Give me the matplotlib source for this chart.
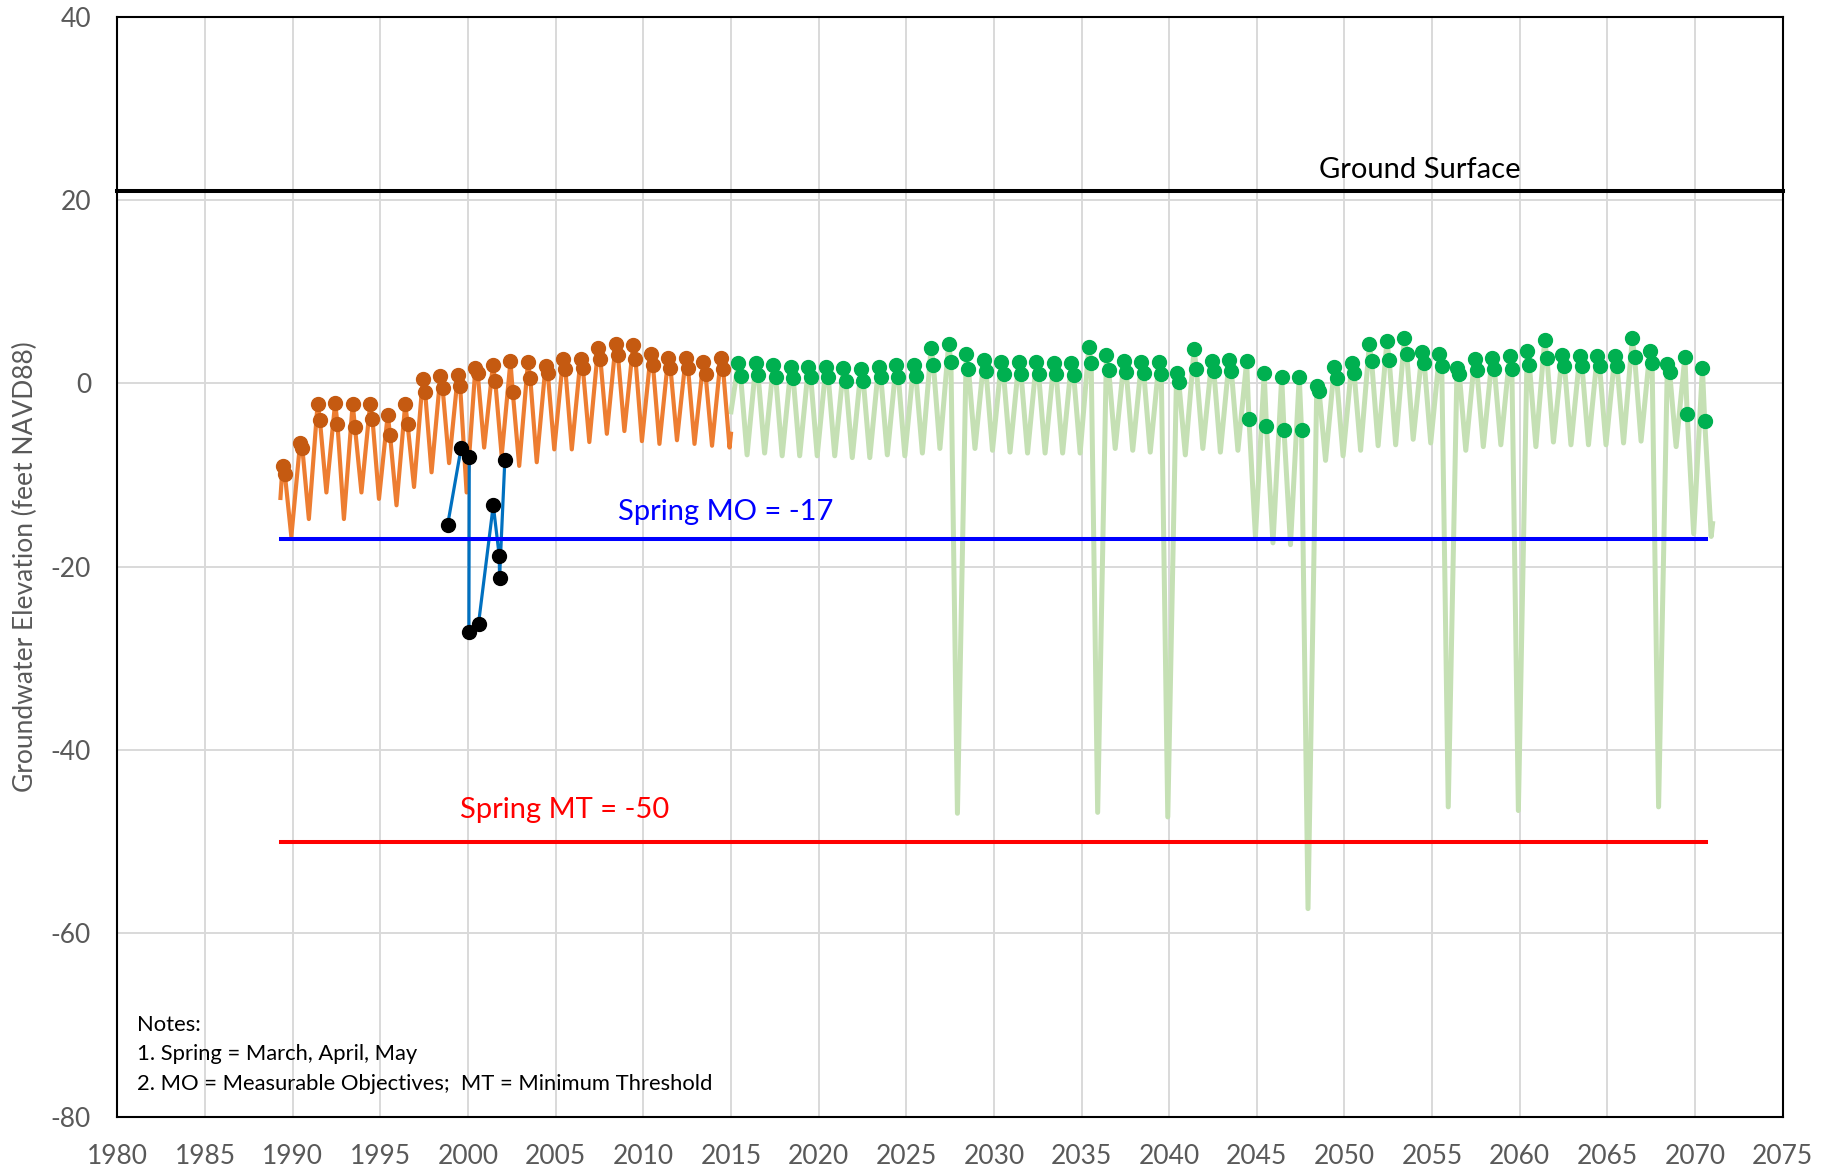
import matplotlib
matplotlib.use("Agg")
import matplotlib.pyplot as plt

plt.rcParams['font.family'] = ['Lato', 'DejaVu Sans']
plt.rcParams['axes.unicode_minus'] = False

# historical simulated (orange), one entry per year 1989..2014
hist_years = list(range(1989, 2015))
hist_spring_a = [-9.0, -6.5, -2.2, -2.1, -2.2, -2.2, -3.4, -2.2, 0.5, 0.8, 0.9, 1.7, 2.0,
                 2.4, 2.3, 1.9, 2.7, 2.7, 3.9, 4.3, 4.2, 3.2, 2.8, 2.8, 2.3, 2.8]
hist_spring_b = [-9.9, -7.1, -4.0, -4.4, -4.8, -3.9, -5.6, -4.4, -0.9, -0.5, -0.3, 1.1, 0.3,
                 -0.9, 0.6, 1.1, 1.6, 1.7, 2.7, 3.1, 2.7, 2.0, 1.7, 1.7, 1.0, 1.6]
hist_fall = [-16.7, -14.8, -11.9, -14.8, -11.9, -12.6, -13.3, -11.3, -9.7, -8.7, -11.9, -7.0, -7.9,
             -9.0, -8.6, -7.2, -7.2, -6.4, -5.5, -5.2, -6.3, -6.6, -6.2, -6.6, -6.8, -7.0]
hist_start = (1989.3, -12.5)
hist_end = (2015.0, -5.5)

# projected simulated (green), one entry per year 2015..2070
proj_years = list(range(2015, 2071))
proj_spring_a = [2.2, 2.2, 2.0, 1.8, 1.8, 1.8, 1.7, 1.6, 1.8, 2.0, 2.0, 3.9, 4.3, 3.2, 2.5, 2.3,
                 2.3, 2.3, 2.2, 2.2, 4.0, 3.1, 2.4, 2.3, 2.3, 1.1, 3.7, 2.4, 2.5, 2.4, 1.1, 0.7,
                 0.7, -0.3, 1.8, 2.2, 4.3, 4.6, 4.9, 3.4, 3.2, 1.7, 2.7, 2.8, 3.0, 3.5, 4.7, 3.1,
                 3.0, 3.0, 3.0, 4.9, 3.5, 2.1, 2.9, 1.7]
proj_spring_b = [0.8, 0.9, 0.7, 0.6, 0.7, 0.7, 0.3, 0.3, 0.7, 0.7, 0.8, 2.0, 2.3, 1.6, 1.3, 1.0,
                 1.0, 1.0, 1.0, 0.9, 2.2, 1.5, 1.2, 1.1, 1.0, 0.1, 1.6, 1.3, 1.3, -3.9, -4.7, -5.1,
                 -5.1, -0.8, 0.6, 1.1, 2.4, 2.6, 3.2, 2.2, 1.9, 1.0, 1.5, 1.6, 1.6, 2.0, 2.8, 1.9,
                 1.9, 1.9, 1.9, 2.9, 2.2, 1.2, -3.3, -4.1]
proj_fall = [-7.8, -7.6, -7.9, -7.9, -7.9, -7.9, -8.1, -8.1, -7.8, -7.9, -7.6, -7.1, -46.9, -7.1,
             -7.3, -7.5, -7.6, -7.6, -7.6, -7.6, -46.8, -7.1, -7.3, -7.5, -47.3, -7.8, -7.1, -7.5,
             -7.3, -16.7, -17.4, -17.6, -57.3, -8.4, -7.9, -7.3, -6.8, -6.7, -6.1, -6.5, -46.2,
             -7.3, -6.9, -6.7, -46.6, -6.9, -6.4, -6.7, -6.7, -6.7, -6.5, -6.3, -46.2, -6.9,
             -16.4, -16.7]
proj_start = (2015.0, -3.1)
proj_end = (2071.0, -15.3)

# observed well measurements
obs_dates = [1998.84, 1999.6, 2000.07, 2000.05, 2000.6, 2001.44, 2001.78, 2001.8, 2002.1]
obs_values = [-15.4, -7.1, -8.0, -27.1, -26.2, -13.3, -18.8, -21.2, -8.4]

ground_surface = 21.0
spring_mo = -17
spring_mt = -50
threshold_span = (1989.35, 2070.6)

notes = ["Notes:", "1. Spring = March, April, May",
         "2. MO = Measurable Objectives;  MT = Minimum Threshold"]

# timing within a year
SPRING_A = 0.42
SPRING_B = 0.55
FALL = 0.92


def seasonal(years, sa, sb, fall, start, end):
    t = [start[0]]
    v = [start[1]]
    for y, a, b, f in zip(years, sa, sb, fall):
        t += [y + SPRING_A, y + SPRING_B, y + FALL]
        v += [a, b, f]
    t.append(end[0])
    v.append(end[1])
    return t, v


fig = plt.figure(figsize=(18.35, 11.71), dpi=100)
ax = fig.add_axes([0.064, 0.0464, 0.9075, 0.9393])

gt, gv = seasonal(proj_years, proj_spring_a, proj_spring_b, proj_fall, proj_start, proj_end)
ax.plot(gt, gv, color='#C5E0B4', lw=3.6, zorder=3, solid_joinstyle='round')
ot, ov = seasonal(hist_years, hist_spring_a, hist_spring_b, hist_fall, hist_start, hist_end)
ax.plot(ot, ov, color='#ED7D31', lw=3.0, zorder=4, solid_joinstyle='round')

ax.plot([y + SPRING_A for y in proj_years], proj_spring_a, 'o', color='#00B050', ms=10, zorder=5)
ax.plot([y + SPRING_B for y in proj_years], proj_spring_b, 'o', color='#00B050', ms=10, zorder=5)
ax.plot([y + SPRING_A for y in hist_years], hist_spring_a, 'o', color='#C55A11', ms=10, zorder=5)
ax.plot([y + SPRING_B for y in hist_years], hist_spring_b, 'o', color='#C55A11', ms=10, zorder=5)

ax.plot(obs_dates, obs_values, color='#0070C0', lw=2.3, zorder=6)
ax.plot(obs_dates, obs_values, 'o', color='black', ms=10, zorder=7)

ax.axhline(ground_surface, color='black', lw=2.9, zorder=4, clip_on=False)
ax.plot(threshold_span, [spring_mo, spring_mo], color='#0000FF', lw=2.9, zorder=6)
ax.plot(threshold_span, [spring_mt, spring_mt], color='#FF0000', lw=2.9, zorder=6)

ax.text(2054.3, 21.9, "Ground Surface", fontsize=21, color='black', ha='center', va='bottom')
ax.text(2014.7, -14.0, "Spring MO = -17", fontsize=21, color='#0000FF', ha='center', va='center')
ax.text(2005.5, -46.5, "Spring MT = -50", fontsize=21, color='#FF0000', ha='center', va='center')
for i, line in enumerate(notes):
    ax.text(1981.1, -70.0 - 3.2 * i, line, fontsize=15.8, color='black', ha='left', va='center')

ax.set_xlim(1980, 2075)
ax.set_ylim(-80, 40)
ax.set_xticks(range(1980, 2076, 5))
ax.set_yticks(range(-80, 41, 20))
ax.grid(True, color='#D9D9D9', lw=1.4, zorder=0)
ax.set_axisbelow(True)
ax.tick_params(length=0, labelsize=19, labelcolor='#595959')
ax.tick_params(axis='x', pad=20)
ax.tick_params(axis='y', pad=19)
for s in ax.spines.values():
    s.set_color('black')
    s.set_linewidth(1.5)
ax.set_ylabel("Groundwater Elevation (feet NAVD88)", fontsize=19, color='#595959', labelpad=9)

fig.savefig("out.png", dpi=100)
